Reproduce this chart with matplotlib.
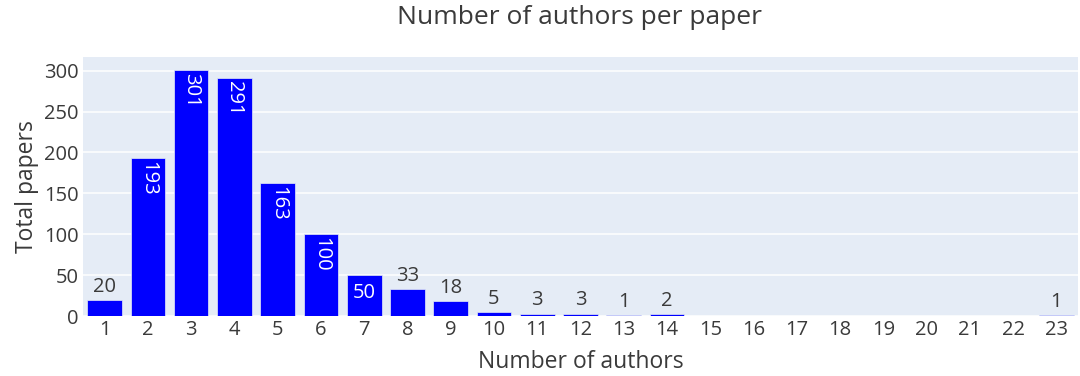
import matplotlib
matplotlib.use('Agg')
import matplotlib.pyplot as plt
import numpy as np

# ---------------------------------------------------------------------------
# Data
# ---------------------------------------------------------------------------
n_authors = [str(i) for i in range(1, 24)]
papers = [20, 193, 301, 291, 163, 100, 50, 33, 18, 5, 3, 3, 1, 2,
          0, 0, 0, 0, 0, 0, 0, 0, 1]
y_ticks = [0, 50, 100, 150, 200, 250, 300]

_BG = '#E5ECF6'
_TEXT = '#3a3a3a'
_BAR = '#0000FF'
_FONT = 'Open Sans'

plt.rcParams['font.family'] = [_FONT, 'DejaVu Sans']

fig = plt.figure(figsize=(10.8, 3.76), dpi=100)
ax = fig.add_axes([83 / 1080, 1 - 316 / 376, (1078 - 83) / 1080, (316 - 57) / 376])
ax.set_facecolor(_BG)
for s in ax.spines.values():
    s.set_visible(False)

x = np.arange(len(n_authors))
bars = ax.bar(x, papers, width=0.8, color=_BAR, edgecolor=_BG, linewidth=0.5,
              zorder=3)

ax.set_xlim(-0.5, len(n_authors) - 0.5)
ymax = max(papers) * 1.052
ax.set_ylim(0, ymax)
ax.set_yticks(y_ticks)
ax.yaxis.grid(True, color='white', linewidth=1.1, zorder=0)
ax.set_xticks(x)
ax.set_xticklabels(n_authors)
ax.tick_params(axis='both', length=0, labelsize=14.5, colors=_TEXT)
ax.tick_params(axis='x', pad=3)
ax.tick_params(axis='y', pad=3)

# Bar value labels (plotly "auto" position)
for xi, v in zip(x, papers):
    if v == 0:
        continue
    if v >= 100:
        ax.text(xi, v - ymax * 0.012, str(v), rotation=-90, ha='center', va='top',
                color='white', fontsize=14.5, zorder=4)
    elif v >= 45:
        ax.text(xi, v - ymax * 0.03, str(v), ha='center', va='top',
                color='white', fontsize=14.5, zorder=4)
    else:
        ax.text(xi, v + ymax * 0.012, str(v), ha='center', va='bottom',
                color=_TEXT, fontsize=14.5, zorder=4)

ax.set_xlabel('Number of authors', fontsize=16.5, color=_TEXT, labelpad=7)
ax.set_ylabel('Total papers', fontsize=16.5, color=_TEXT, labelpad=4)
fig.text(0.537, 1 - 17 / 376, 'Number of authors per paper', ha='center',
         va='center', fontsize=19, color=_TEXT)

fig.savefig('out.png', dpi=100, facecolor='white')
